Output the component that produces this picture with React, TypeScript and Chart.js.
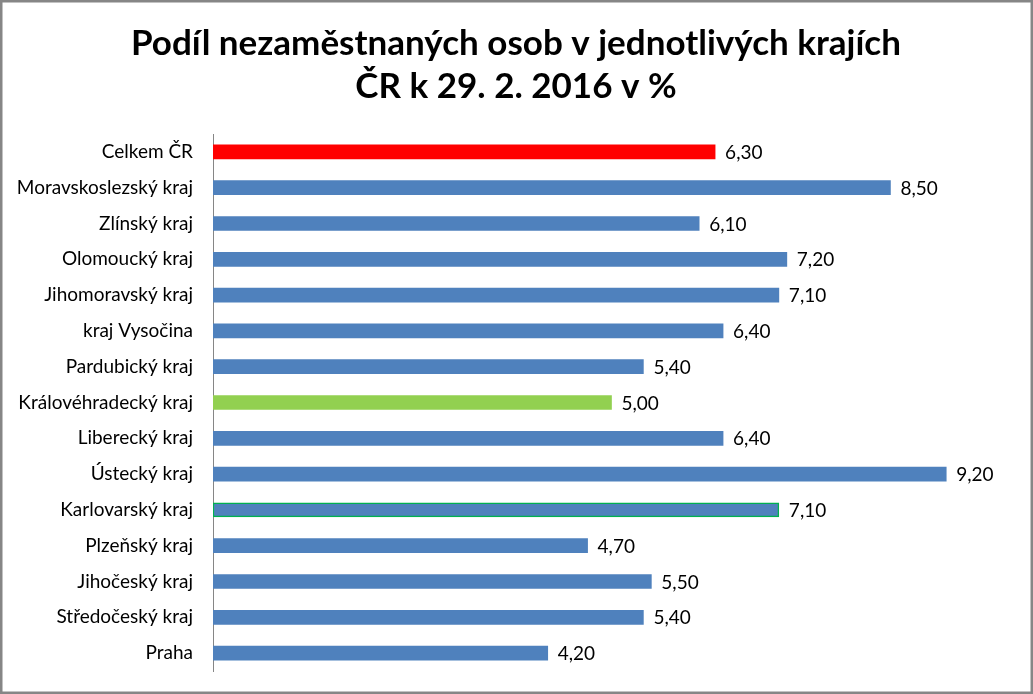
import React, { useEffect, useRef } from "react";
import { Chart, registerables } from "chart.js";

Chart.register(...registerables);

const categories = [
  "Celkem ČR",
  "Moravskoslezský kraj",
  "Zlínský kraj",
  "Olomoucký kraj",
  "Jihomoravský kraj",
  "kraj Vysočina",
  "Pardubický kraj",
  "Královéhradecký kraj",
  "Liberecký kraj",
  "Ústecký kraj",
  "Karlovarský kraj",
  "Plzeňský kraj",
  "Jihočeský kraj",
  "Středočeský kraj",
  "Praha",
];
const values = [6.3, 8.5, 6.1, 7.2, 7.1, 6.4, 5.4, 5.0, 6.4, 9.2, 7.1, 4.7, 5.5, 5.4, 4.2];
const titleLines = ["Podíl nezaměstnaných osob v jednotlivých krajích", "ČR k 29. 2. 2016 v %"];

const BLUE = "#4f81bd";
const RED = "#ff0000";
const GREEN = "#92d050";
const FONT = "Lato, 'Open Sans', sans-serif";

const fillColors = categories.map((c) =>
  c === "Celkem ČR" ? RED : c === "Královéhradecký kraj" ? GREEN : BLUE
);
const borderColors = categories.map((c) => (c === "Karlovarský kraj" ? "#00b050" : "rgba(0,0,0,0)"));
const borderWidths = categories.map((c) => (c === "Karlovarský kraj" ? 1.5 : 0));

export default function App() {
  const ref = useRef<HTMLCanvasElement>(null);

  useEffect(() => {
    document.body.style.margin = "0";
    const canvas = ref.current!;
    const framePlugin = {
      id: "frame",
      beforeDraw(chart: any) {
        const ctx = chart.ctx;
        ctx.save();
        ctx.fillStyle = "#ffffff";
        ctx.fillRect(0, 0, chart.width, chart.height);
        ctx.strokeStyle = "#868686";
        ctx.lineWidth = 2.5;
        ctx.strokeRect(1.25, 1.25, chart.width - 2.5, chart.height - 2.5);
        ctx.restore();
      },
      afterDraw(chart: any) {
        const ctx = chart.ctx;
        ctx.save();
        ctx.fillStyle = "#000000";
        ctx.textAlign = "center";
        ctx.textBaseline = "alphabetic";
        ctx.font = `bold 35px ${FONT}`;
        ctx.fillText(titleLines[0], 516, 55);
        ctx.fillText(titleLines[1], 516, 98);
        // value labels
        const meta = chart.getDatasetMeta(0);
        ctx.font = `19px ${FONT}`;
        ctx.textAlign = "left";
        ctx.textBaseline = "middle";
        meta.data.forEach((bar: any, i: number) => {
          const txt = values[i].toFixed(2).replace(".", ",");
          ctx.fillText(txt, bar.x + 10, bar.y + 1);
        });
        ctx.restore();
      },
    };

    const chart = new Chart(canvas, {
      type: "bar",
      data: {
        labels: categories,
        datasets: [
          {
            data: values,
            backgroundColor: fillColors,
            borderColor: borderColors,
            borderWidth: borderWidths,
            borderSkipped: false,
            barThickness: 14,
          },
        ],
      },
      options: {
        indexAxis: "y",
        responsive: false,
        animation: false,
        layout: { padding: { top: 134, bottom: 23, right: 23, left: 0 } },
        plugins: {
          legend: { display: false },
          title: { display: false },
          tooltip: { enabled: false },
        },
        scales: {
          x: {
            min: 0,
            max: 10,
            display: false,
            grid: { display: false },
          },
          y: {
            afterFit: (axis: any) => {
              axis.width = 213;
              axis.paddingTop = 0;
              axis.paddingBottom = 0;
            },
            grid: { display: false, drawTicks: false },
            border: { display: true, color: "#868686", width: 1 },
            ticks: {
              padding: 20,
              color: "#000000",
              font: { family: FONT, size: 19 },
            },
          },
        },
      },
      plugins: [framePlugin],
    });
    return () => chart.destroy();
  }, []);

  return (
    <div style={{ position: "absolute", left: 0, top: 0, width: 1033, height: 694 }}>
      <canvas ref={ref} width={1033} height={694} style={{ width: 1033, height: 694, display: "block" }} />
    </div>
  );
}
